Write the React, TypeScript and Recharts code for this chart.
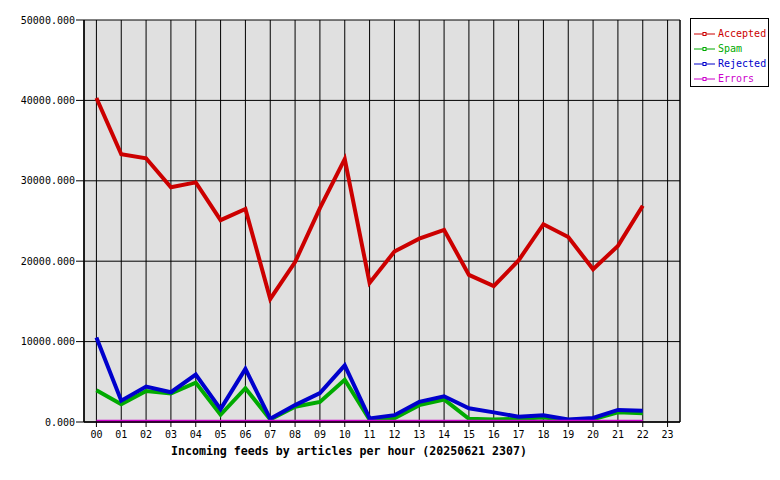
import React from 'react';
import { LineChart, Line, XAxis, YAxis, CartesianGrid, ReferenceLine, Legend } from 'recharts';

const hours = ['00','01','02','03','04','05','06','07','08','09','10','11','12','13','14','15','16','17','18','19','20','21','22','23'];
const accepted = [40300, 33300, 32800, 29200, 29800, 25100, 26500, 15300, 19900, 26600, 32700, 17300, 21200, 22800, 23900, 18300, 16900, 20100, 24600, 23000, 19000, 21900, 26900, null];
const spam = [3950, 2200, 3850, 3550, 4900, 900, 4200, 300, 1900, 2500, 5250, 300, 450, 2100, 2800, 400, 300, 400, 550, 250, 350, 1200, 1100, null];
const rejected = [10500, 2650, 4400, 3700, 5900, 1600, 6600, 400, 2100, 3600, 7050, 450, 850, 2500, 3200, 1700, 1200, 650, 850, 300, 500, 1500, 1400, null];
const errors = [80, 80, 80, 80, 80, 80, 80, 80, 80, 80, 80, 80, 80, 80, 80, 80, 80, 80, 80, 80, 80, 80, 80, null];
const yTicks = [0, 10000, 20000, 30000, 40000, 50000];
const xTitle = 'Incoming feeds by articles per hour (20250621 2307)';

const series = [
  { key: 'accepted', name: 'Accepted', color: '#cc0000', width: 4 },
  { key: 'spam', name: 'Spam', color: '#00aa00', width: 4 },
  { key: 'rejected', name: 'Rejected', color: '#0000cc', width: 4 },
  { key: 'errors', name: 'Errors', color: '#cc00cc', width: 3 },
];

const data = hours.map((h, i) => ({
  x: i,
  hour: h,
  accepted: accepted[i],
  spam: spam[i],
  rejected: rejected[i],
  errors: errors[i],
}));

const FONT = '"DejaVu Sans Mono", monospace';

const LegendBox = () => (
  <div
    style={{
      position: 'absolute',
      left: 690,
      top: 18,
      width: 79,
      height: 69,
      border: '1px solid #000',
      background: '#fff',
      boxSizing: 'border-box',
      fontFamily: FONT,
      fontSize: 10,
      paddingTop: 7,
    }}
  >
    {series.map((s) => (
      <div key={s.key} style={{ height: 15, display: 'flex', alignItems: 'center', position: 'relative' }}>
        <svg width={26} height={8} style={{ marginLeft: 3 }}>
          <line x1={0} y1={4} x2={21} y2={4} stroke={s.color} strokeWidth={1} />
          <rect x={9} y={2.5} width={3} height={3} fill="#fff" stroke={s.color} strokeWidth={1} />
        </svg>
        <span style={{ color: s.color, marginLeft: -2 }}>{s.name}</span>
      </div>
    ))}
  </div>
);

export default function App() {
  return (
    <div style={{ position: 'absolute', left: 0, top: 0, width: 780, height: 480, background: '#fff' }}>
      <LineChart
        width={780}
        height={480}
        data={data}
        margin={{ top: 20, right: 100, bottom: 28, left: 0 }}
      >
        <CartesianGrid stroke="#000" strokeWidth={1} fill="#e0e0e0" fillOpacity={1} />
        <XAxis
          dataKey="x"
          type="number"
          domain={[-0.5, 23.5]}
          ticks={hours.map((_, i) => i)}
          tickFormatter={(v: number) => hours[v]}
          interval={0}
          height={30}
          tickSize={5}
          tickMargin={4}
          stroke="#000"
          tick={{ fill: '#000', fontFamily: FONT, fontSize: 10 }}
          axisLine={{ stroke: '#000', strokeWidth: 1.5 }}
          tickLine={{ stroke: '#000' }}
        />
        <YAxis
          type="number"
          domain={[0, 50000]}
          ticks={yTicks}
          tickFormatter={(v: number) => v.toFixed(3)}
          width={84}
          tickSize={8}
          tickMargin={1}
          interval={0}
          tick={{ fill: '#000', fontFamily: FONT, fontSize: 10 }}
          axisLine={{ stroke: '#000', strokeWidth: 1.5 }}
          tickLine={{ stroke: '#000' }}
        />
        <ReferenceLine x={23.5} stroke="#000" strokeWidth={1} />
        {series.map((s) => (
          <Line
            key={s.key}
            type="linear"
            dataKey={s.key}
            name={s.name}
            stroke={s.color}
            strokeWidth={s.width}
            dot={false}
            activeDot={false}
            connectNulls={false}
            isAnimationActive={false}
          />
        ))}
        <Legend content={() => null} />
        <text
          x={349}
          y={455}
          textAnchor="middle"
          fontFamily={FONT}
          fontSize={11.6}
          fontWeight="bold"
          fill="#000"
        >
          {xTitle}
        </text>
      </LineChart>
      <LegendBox />
    </div>
  );
}
